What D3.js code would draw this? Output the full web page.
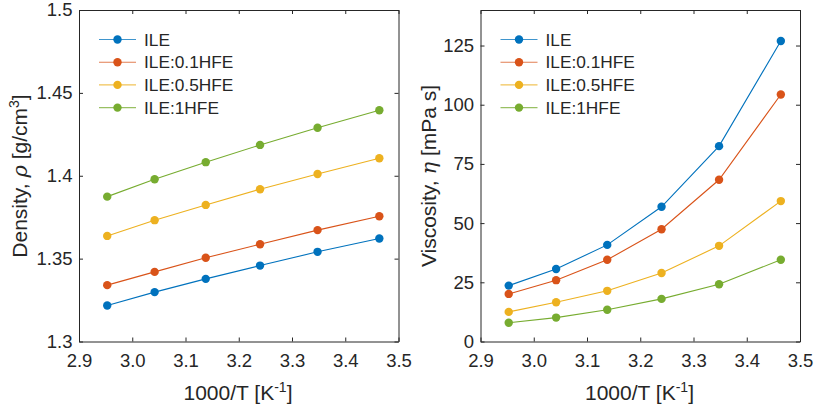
<!DOCTYPE html>
<html>
<head>
<meta charset="utf-8">
<script src="https://cdn.jsdelivr.net/npm/d3@7"></script>
<style>
  body { margin: 0; background: #fff; }
  text { font-family: "Liberation Sans", Arial, Helvetica, sans-serif; fill: #262626; }
</style>
</head>
<body>
<svg id="chart" width="814" height="408"></svg>
<script>
const invT = [2.953, 3.042, 3.138, 3.240, 3.348, 3.464];
const seriesNames = ['ILE', 'ILE:0.1HFE', 'ILE:0.5HFE', 'ILE:1HFE'];
const colors = ['#0072BD', '#D95319', '#EDB120', '#77AC30'];

const densIle = [1.3217, 1.3298, 1.3378, 1.3458, 1.3541, 1.3621];
const dens01 = [1.3340, 1.3420, 1.3505, 1.3587, 1.3672, 1.3756];
const dens05 = [1.3637, 1.3732, 1.3824, 1.3919, 1.4011, 1.4106];
const dens1 = [1.3874, 1.3979, 1.4082, 1.4186, 1.4290, 1.4395];

const viscIle = [23.6, 30.6, 40.8, 56.9, 82.5, 126.9];
const visc01 = [20.1, 25.9, 34.5, 47.4, 68.3, 104.3];
const visc05 = [12.5, 16.6, 21.4, 28.9, 40.4, 59.3];
const visc1 = [7.9, 10.1, 13.4, 18.0, 24.2, 34.5];

const xTicks = [2.9, 3.0, 3.1, 3.2, 3.3, 3.4, 3.5];
const densTicks = [1.3, 1.35, 1.4, 1.45, 1.5];
const viscTicks = [0, 25, 50, 75, 100, 125];

const svg = d3.select('#chart');
const axisColor = '#262626';

function drawPanel(opts) {
  const g = svg.append('g');
  const x = d3.scaleLinear().domain([2.9, 3.5]).range([opts.left, opts.left + 319.5]);
  const y = d3.scaleLinear().domain(opts.yDomain).range([341.5, 10]);

  const xFmt = (d) => d.toFixed(1);

  // box axes, ticks pointing inward
  const xb = g.append('g').attr('transform', 'translate(0,341.5)')
    .call(d3.axisBottom(x).tickValues(xTicks).tickSizeInner(-4).tickSizeOuter(0).tickFormat(xFmt));
  const xt = g.append('g').attr('transform', 'translate(0,10)')
    .call(d3.axisTop(x).tickValues(xTicks).tickSizeInner(-4).tickSizeOuter(0).tickFormat(''));
  const yl = g.append('g').attr('transform', 'translate(' + opts.left + ',0)')
    .call(d3.axisLeft(y).tickValues(opts.yTicks).tickSizeInner(-4).tickSizeOuter(0).tickPadding(6.5).tickFormat(opts.yFmt));
  const yr = g.append('g').attr('transform', 'translate(' + (opts.left + 319.5) + ',0)')
    .call(d3.axisRight(y).tickValues(opts.yTicks).tickSizeInner(-4).tickSizeOuter(0).tickFormat(''));
  [xb, xt, yl, yr].forEach((a) => {
    a.selectAll('path').attr('stroke', axisColor);
    a.selectAll('line').attr('stroke', axisColor);
    a.selectAll('text').attr('font-size', 18.5).attr('font-family', null).style('fill', axisColor);
  });
  xb.selectAll('text').attr('dy', 0).attr('y', 25);

  const line = d3.line().x((d, i) => x(invT[i])).y((d) => y(d));
  opts.series.forEach((vals, s) => {
    g.append('path').datum(vals)
      .attr('fill', 'none').attr('stroke', colors[s]).attr('stroke-width', 1.1)
      .attr('d', line);
    g.selectAll('.pt' + s).data(vals).enter().append('circle')
      .attr('cx', (d, i) => x(invT[i])).attr('cy', (d) => y(d))
      .attr('r', 4.2).attr('fill', colors[s]);
  });

  // legend
  const lg = g.append('g').attr('transform', 'translate(' + (opts.left + 20) + ',39.5)');
  seriesNames.forEach((name, s) => {
    const row = lg.append('g').attr('transform', 'translate(0,' + (s * 22.7) + ')');
    row.append('line').attr('x1', 0).attr('x2', 37).attr('stroke', colors[s]).attr('stroke-width', 1.1).attr('opacity', 0.75);
    row.append('circle').attr('cx', 18.5).attr('r', 4.2).attr('fill', colors[s]);
    row.append('text').attr('x', 45).attr('dy', '0.36em').attr('font-size', 17.3).text(name);
  });

  // x label
  const xl = g.append('text').attr('x', opts.left + 159).attr('y', 400)
    .attr('text-anchor', 'middle').attr('font-size', 21);
  xl.append('tspan').text('1000/T [K');
  xl.append('tspan').attr('dy', -8).attr('font-size', 14).text('-1');
  xl.append('tspan').attr('dy', 8).text(']');

  // y label
  const ylab = g.append('text')
    .attr('transform', 'translate(' + (opts.left - opts.yLabelOff) + ',176) rotate(-90)')
    .attr('text-anchor', 'middle').attr('font-size', 21);
  ylab.append('tspan').text(opts.yName + ', ');
  ylab.append('tspan').attr('font-family', '"DejaVu Serif", "Liberation Serif", serif').attr('font-style', 'italic').text(opts.sym);
  ylab.append('tspan').text(' [' + opts.unit);
  if (opts.sup) {
    ylab.append('tspan').attr('dy', -8).attr('font-size', 14).text(opts.sup);
    ylab.append('tspan').attr('dy', 8).text(']');
  } else {
    ylab.append('tspan').text(']');
  }
}

drawPanel({
  left: 79,
  yDomain: [1.3, 1.5],
  yTicks: densTicks,
  yFmt: (d) => (d === 1.3 || d === 1.5 || d === 1.4) ? d.toFixed(1) : d.toFixed(2),
  series: [densIle, dens01, dens05, dens1],
  yName: 'Density', sym: 'ρ', unit: 'g/cm', sup: '3', yLabelOff: 52
});

drawPanel({
  left: 480.5,
  yDomain: [0, 140],
  yTicks: viscTicks,
  yFmt: (d) => String(d),
  series: [viscIle, visc01, visc05, visc1],
  yName: 'Viscosity', sym: 'η', unit: 'mPa s', sup: null, yLabelOff: 45
});
</script>
</body>
</html>
